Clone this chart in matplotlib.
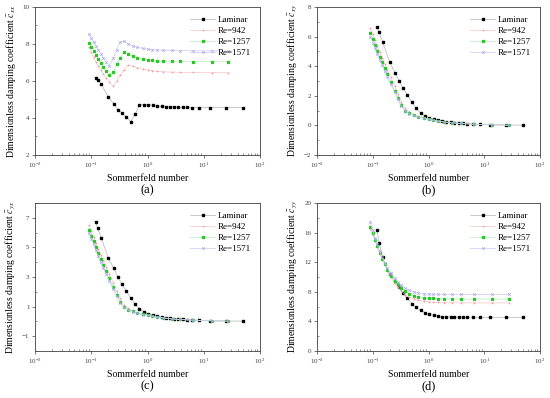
import matplotlib
matplotlib.use("Agg")
import matplotlib.pyplot as plt
from matplotlib.ticker import LogLocator, NullFormatter, MultipleLocator

plt.rcParams["font.family"] = ["Liberation Serif", "DejaVu Serif"]
plt.rcParams["mathtext.fontset"] = "stix"

# Sommerfeld numbers
lam_x = [0.12, 0.13, 0.15, 0.2, 0.25, 0.3, 0.35, 0.42, 0.5, 0.6, 0.72, 0.86, 1.03, 1.23,
         1.47, 1.78, 2.1, 2.5, 2.9, 3.5, 4.2, 5.0, 6.3, 8.3, 12.7, 25, 50]
turb_x = [0.09, 0.1, 0.11, 0.12, 0.133, 0.147, 0.164, 0.183, 0.209, 0.247, 0.283, 0.324,
          0.382, 0.456, 0.546, 0.659, 0.82, 1.0, 1.2, 1.46, 1.91, 2.69, 3.78, 6.5, 13.8, 27.3]

# (a) c_xx
a_lam = [6.15, 6.05, 5.85, 5.15, 4.76, 4.45, 4.28, 4.07, 3.8, 4.2, 4.7, 4.72, 4.72, 4.69,
         4.66, 4.63, 4.61, 4.6, 4.59, 4.58, 4.57, 4.57, 4.56, 4.56, 4.56, 4.56, 4.56]
a_942 = [7.82, 7.55, 7.3, 7.05, 6.82, 6.6, 6.38, 6.17, 5.95, 5.72, 6.0, 6.3, 6.6, 6.86,
         6.8, 6.72, 6.65, 6.6, 6.56, 6.53, 6.5, 6.48, 6.47, 6.46, 6.45, 6.45]
a_1257 = [8.07, 7.85, 7.62, 7.42, 7.2, 6.98, 6.75, 6.55, 6.33, 6.5, 6.9, 7.25, 7.57, 7.45,
          7.33, 7.25, 7.18, 7.14, 7.11, 7.09, 7.08, 7.07, 7.06, 7.05, 7.05, 7.05]
a_1571 = [8.52, 8.3, 8.1, 7.9, 7.7, 7.48, 7.25, 7.02, 6.82, 7.25, 7.7, 8.1, 8.15, 8.0,
          7.9, 7.82, 7.77, 7.73, 7.7, 7.68, 7.66, 7.65, 7.64, 7.63, 7.63, 7.62]

# (b) c_xy
b_lam = [6.65, 6.3, 5.65, 4.3, 3.55, 3.0, 2.5, 2.05, 1.6, 1.15, 0.85, 0.65, 0.52, 0.44,
         0.37, 0.31, 0.26, 0.22, 0.19, 0.16, 0.13, 0.11, 0.09, 0.07, 0.05, 0.03, 0.02]
b_942 = [6.55, 6.15, 5.75, 5.35, 4.95, 4.55, 4.15, 3.75, 3.25, 2.65, 2.1, 1.6, 1.15, 0.9,
         0.72, 0.6, 0.5, 0.42, 0.36, 0.3, 0.24, 0.18, 0.13, 0.08, 0.04, 0.02]
b_1257 = [6.25, 5.85, 5.45, 5.05, 4.65, 4.25, 3.85, 3.45, 2.95, 2.35, 1.85, 1.35, 1.0, 0.82,
          0.68, 0.57, 0.47, 0.4, 0.34, 0.29, 0.23, 0.17, 0.13, 0.08, 0.04, 0.02]
b_1571 = [6.0, 5.6, 5.2, 4.82, 4.43, 4.05, 3.65, 3.25, 2.8, 2.25, 1.75, 1.3, 0.98, 0.8,
          0.67, 0.56, 0.47, 0.4, 0.34, 0.29, 0.23, 0.17, 0.13, 0.08, 0.04, 0.02]

# (c) c_yx
c_lam = [6.7, 6.3, 5.65, 4.3, 3.6, 3.0, 2.5, 2.05, 1.6, 1.15, 0.85, 0.65, 0.52, 0.44,
         0.37, 0.31, 0.26, 0.22, 0.19, 0.16, 0.13, 0.11, 0.09, 0.07, 0.05, 0.03, 0.02]
c_942 = [6.5, 6.1, 5.7, 5.3, 4.9, 4.5, 4.1, 3.7, 3.2, 2.6, 2.05, 1.55, 1.12, 0.88,
         0.71, 0.59, 0.49, 0.42, 0.36, 0.3, 0.24, 0.18, 0.13, 0.08, 0.04, 0.02]
c_1257 = [6.2, 5.8, 5.4, 5.0, 4.6, 4.2, 3.8, 3.4, 2.9, 2.3, 1.8, 1.3, 0.98, 0.8,
          0.67, 0.56, 0.47, 0.4, 0.34, 0.29, 0.23, 0.17, 0.13, 0.08, 0.04, 0.02]
c_1571 = [6.0, 5.6, 5.2, 4.8, 4.4, 4.0, 3.6, 3.2, 2.75, 2.2, 1.7, 1.25, 0.95, 0.78,
          0.66, 0.55, 0.46, 0.4, 0.34, 0.29, 0.23, 0.17, 0.13, 0.08, 0.04, 0.02]

# (d) c_yy
d_lam = [16.3, 14.65, 12.67, 10.4, 9.4, 8.7, 7.8, 7.1, 6.4, 5.9, 5.5, 5.2, 4.95, 4.8,
         4.72, 4.66, 4.62, 4.6, 4.58, 4.57, 4.56, 4.55, 4.55, 4.55, 4.55, 4.55, 4.55]
d_942 = [16.5, 15.7, 14.9, 14.1, 13.2, 12.4, 11.6, 10.8, 10.0, 9.2, 8.6, 8.1, 7.6, 7.25,
         7.0, 6.85, 6.72, 6.65, 6.6, 6.56, 6.54, 6.52, 6.51, 6.5, 6.5, 6.5]
d_1257 = [16.8, 15.9, 15.0, 14.2, 13.3, 12.5, 11.7, 11.0, 10.2, 9.5, 9.0, 8.5, 8.1, 7.75,
          7.5, 7.35, 7.22, 7.15, 7.1, 7.07, 7.05, 7.04, 7.03, 7.02, 7.02, 7.02]
d_1571 = [17.5, 16.3, 15.3, 14.4, 13.5, 12.7, 11.9, 11.2, 10.5, 9.8, 9.3, 8.9, 8.5, 8.2,
          8.0, 7.85, 7.75, 7.7, 7.68, 7.66, 7.65, 7.65, 7.65, 7.65, 7.65, 7.65]

panels = [
    ("a", "xx", a_lam, a_942, a_1257, a_1571, (2, 10), 2, None),
    ("b", "xy", b_lam, b_942, b_1257, b_1571, (-2, 8), 2, None),
    ("c", "yx", c_lam, c_942, c_1257, c_1571, (-2, 8), 2, [-1, 1, 3, 5, 7]),
    ("d", "yy", d_lam, d_942, d_1257, d_1571, (0, 20), 4, None),
]

rects = [
    [35/550, 1-155/398, 225/550, 148/398],
    [317/550, 1-155/398, 223/550, 148/398],
    [35/550, 1-351/398, 225/550, 148/398],
    [317/550, 1-351/398, 223/550, 148/398],
]

fig = plt.figure(figsize=(5.5, 3.98), dpi=100)

for (tag, sub, lam, r942, r1257, r1571, ylim, step, yticks), rect in zip(panels, rects):
    ax = fig.add_axes(rect)
    ax.plot(lam_x, lam, color="#b4b4b4", lw=0.5, marker="s", ms=1.5,
            mfc="black", mec="black", label="Laminar")
    ax.plot(turb_x, r942, color="#f8c4c4", lw=0.5, marker="+", ms=2.0, mew=0.5,
            mec="#f29a9a", label="Re=942")
    ax.plot(turb_x, r1257, color="#b8ecb8", lw=0.5, marker="*", ms=2.2,
            mfc="#28c828", mec="#28c828", label="Re=1257")
    ax.plot(turb_x, r1571, color="#c8c8f6", lw=0.5, marker="x", ms=1.8, mew=0.5,
            mec="#a4a4ee", label="Re=1571")

    ax.set_xscale("log")
    ax.set_xlim(1e-2, 1e2)
    ax.set_ylim(*ylim)
    ax.xaxis.set_major_locator(LogLocator(base=10, numticks=10))
    ax.xaxis.set_minor_locator(LogLocator(base=10, subs=range(2, 10), numticks=20))
    ax.xaxis.set_minor_formatter(NullFormatter())
    if yticks is not None:
        ax.set_yticks(yticks)
        ax.yaxis.set_minor_locator(MultipleLocator(1))
    else:
        ax.yaxis.set_major_locator(MultipleLocator(step))
        ax.yaxis.set_minor_locator(MultipleLocator(step / 2))

    for s in ax.spines.values():
        s.set_color("#404040")
        s.set_linewidth(0.6)
    ax.tick_params(which="major", labelsize=5, length=2.5, width=0.5, direction="out",
                   colors="#404040", pad=1.5)
    ax.tick_params(which="minor", length=1.5, width=0.4, direction="in", colors="#404040")

    ax.set_ylabel("Dimensionless damping coefficient $\\bar{c}_{%s}$" % sub,
                  fontsize=7, labelpad=3)
    ax.set_xlabel("Sommerfeld number", fontsize=7, labelpad=3)
    ax.legend(loc="upper right", frameon=False, fontsize=6.5, handlelength=2.8,
              handletextpad=0.3, labelspacing=0.3, borderaxespad=0.6)

    cx = rect[0] + rect[2] / 2
    cy = rect[1] - 35/398
    fig.text(cx, cy, "(%s)" % tag, ha="center", va="center", fontsize=9)

fig.savefig("out.png", dpi=100)
